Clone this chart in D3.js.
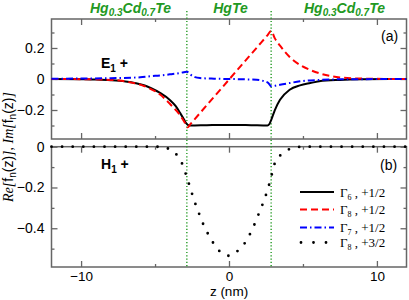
<!DOCTYPE html>
<html>
<head>
<meta charset="utf-8">
<script src="https://cdn.jsdelivr.net/npm/d3@7"></script>
<style>
body { margin: 0; background: #fff; }
svg { display: block; }
</style>
</head>
<body>
<svg id="chart" width="409" height="300"></svg>
<script>
// z (nm) vs amplitude
var gamma6 = [[-12,0],[-10,-0.002],[-9,-0.004],[-8,-0.008],[-7,-0.016],[-6.3,-0.027],[-5.7,-0.042],[-5.3,-0.058],
  [-4.66,-0.09],[-4,-0.135],[-3.6,-0.175],[-3.3,-0.22],[-3.05,-0.26],[-2.9,-0.285],[-2.75,-0.298],[-2.6,-0.3],
  [-1.5,-0.298],[0,-0.296],[1.5,-0.298],[2.6,-0.3],[2.72,-0.292],[2.85,-0.265],[3.1,-0.2],[3.45,-0.134],
  [4.1,-0.069],[4.8,-0.041],[5.5,-0.026],[6.1,-0.015],[7.5,-0.006],[9,-0.002],[12,0]];
var gamma8a = [[-12,0],[-10,-0.001],[-8.7,-0.003],[-7.4,-0.01],[-6.5,-0.025],[-6,-0.036],[-5.34,-0.062],
  [-4.66,-0.1],[-4,-0.16],[-3.6,-0.2],[-3.3,-0.235],[-3,-0.28],[-2.8,-0.312],[-2.6,-0.29],[-2,-0.224],
  [-1,-0.114],[0,-0.004],[1,0.106],[2,0.216],[2.6,0.282],[2.85,0.31],[3.1,0.262],[3.45,0.215],[4.1,0.142],
  [4.8,0.09],[5.5,0.058],[6.1,0.037],[6.8,0.02],[7.5,0.01],[8.5,0.004],[10,0.001],[12,0]];
var gamma7 = [[-12,0.002],[-10,0.003],[-8,0.005],[-6,0.011],[-5.3,0.018],[-4.66,0.023],[-4,0.03],[-3.3,0.039],
  [-2.85,0.047],[-2.6,0.028],[-2.3,0.012],[-1.96,0.006],[-1,0.002],[0,0],[1,-0.002],[1.87,-0.005],[2.3,-0.012],
  [2.66,-0.026],[2.85,-0.047],[3.3,-0.04],[3.45,-0.037],[4.1,-0.026],[4.8,-0.015],[6.1,-0.006],[7.5,-0.002],
  [9,-0.001],[12,0]];
var gamma8b = [[-12,0],[-5,0],[-4.5,-0.003],[-4,-0.013],[-3.47,-0.046],[-3.13,-0.09],[-2.9,-0.139],[-2.68,-0.188],
  [-2.45,-0.242],[-2.23,-0.289],[-1.96,-0.34],[-1.69,-0.389],[-1.37,-0.434],[-1.01,-0.478],[-0.56,-0.518],
  [0,-0.535],[0.7,-0.503],[1.15,-0.464],[1.49,-0.418],[1.78,-0.371],[2.05,-0.322],[2.32,-0.273],[2.55,-0.225],
  [2.75,-0.176],[2.93,-0.126],[3.11,-0.078],[3.63,-0.033],[4.24,-0.008],[5,0],[12,0]];

var wellEdges = [-2.85, 2.85];
var xMajor = [-10, 0, 10], xMinor = [-5, 5];
var yTopMajor = [-0.2, 0, 0.2], yTopMinor = [-0.3, -0.1, 0.1, 0.3];
var yBotMajor = [-0.4, -0.2, 0], yBotMinor = [-0.5, -0.3, -0.1];
var legendLabels = [["6", "+1/2"], ["8", "+1/2"], ["7", "+1/2"], ["8", "+3/2"]];

var svg = d3.select('#chart');
var axisColor = '#666';
var green = '#229922';
var sans = 'Liberation Sans, Arial, sans-serif';
var serif = 'Liberation Serif, Times New Roman, serif';

var x = d3.scaleLinear().domain([-12, 12]).range([51.5, 406.5]);
var yTop = d3.scaleLinear().domain([-0.387, 0.387]).range([139, 19]);
var yBot = d3.scaleLinear().domain([-0.59, 0]).range([267, 146.7]);

function styleAxis(g) {
  g.select('.domain').remove();
  g.selectAll('line').attr('stroke', axisColor).attr('stroke-width', 1.3);
  g.selectAll('text').attr('fill', '#000').attr('font-family', sans).attr('font-size', 14);
}

function panel(y, yMajor, yMinor, labelX) {
  var x0 = x.range()[0], x1 = x.range()[1];
  var y0 = y.range()[1], y1 = y.range()[0];
  // x ticks, bottom and top (inward)
  [[d3.axisBottom, y1], [d3.axisTop, y0]].forEach(function (a) {
    svg.append('g').attr('transform', 'translate(0,' + a[1] + ')')
      .call(a[0](x).tickValues(xMajor).tickSize(-6).tickFormat('')).call(styleAxis);
    svg.append('g').attr('transform', 'translate(0,' + a[1] + ')')
      .call(a[0](x).tickValues(xMinor).tickSize(-3).tickFormat('')).call(styleAxis);
  });
  if (labelX) {
    svg.append('g').attr('transform', 'translate(0,' + y1 + ')')
      .call(d3.axisBottom(x).tickValues(xMajor).tickSize(0).tickPadding(4).tickFormat(d3.format('d')))
      .call(styleAxis)
      .selectAll('text').attr('font-size', 13.5);
  }
  // y ticks, left and right
  svg.append('g').attr('transform', 'translate(' + x0 + ',0)')
    .call(d3.axisLeft(y).tickValues(yMajor).tickSize(-6).tickPadding(7).tickFormat(function (d) { return d === 0 ? '0' : d3.format('.1f')(d); }))
    .call(styleAxis);
  svg.append('g').attr('transform', 'translate(' + x0 + ',0)')
    .call(d3.axisLeft(y).tickValues(yMinor).tickSize(-3).tickFormat('')).call(styleAxis);
  svg.append('g').attr('transform', 'translate(' + x1 + ',0)')
    .call(d3.axisRight(y).tickValues(yMajor).tickSize(-6).tickFormat('')).call(styleAxis);
  svg.append('g').attr('transform', 'translate(' + x1 + ',0)')
    .call(d3.axisRight(y).tickValues(yMinor).tickSize(-3).tickFormat('')).call(styleAxis);
  svg.append('rect').attr('x', x0).attr('y', y0).attr('width', x1 - x0).attr('height', y1 - y0)
    .attr('fill', 'none').attr('stroke', axisColor).attr('stroke-width', 1.5);
}

panel(yTop, yTopMajor, yTopMinor, false);
panel(yBot, yBotMajor, yBotMinor, true);

// well boundaries
svg.selectAll('.edge').data(wellEdges).enter().append('line')
  .attr('x1', function (d) { return x(d); }).attr('x2', function (d) { return x(d); })
  .attr('y1', 11).attr('y2', 267)
  .attr('stroke', green).attr('stroke-width', 1.4).attr('stroke-dasharray', '1.2,2.1');

function lineFor(y) {
  return d3.line().x(function (d) { return x(d[0]); }).y(function (d) { return y(d[1]); }).curve(d3.curveMonotoneX);
}

var series = [
  { data: gamma6, y: yTop, color: '#000', dash: null, w: 2 },
  { data: gamma8a, y: yTop, color: '#ff0000', dash: '7,4', w: 2 },
  { data: gamma7, y: yTop, color: '#0000ff', dash: '7,3,1.5,3', w: 2 },
  { data: gamma8b, y: yBot, color: '#000', dash: '0,10.6', w: 2.8, cap: 'round' }
];
series.forEach(function (s) {
  svg.append('path').attr('d', lineFor(s.y)(s.data))
    .attr('fill', 'none').attr('stroke', s.color).attr('stroke-width', s.w)
    .attr('stroke-dasharray', s.dash).attr('stroke-linecap', s.cap || 'butt');
});

// region labels
function region(cx, parts) {
  var t = svg.append('text').attr('x', cx).attr('y', 13).attr('text-anchor', 'middle')
    .attr('fill', green).attr('font-family', sans)
    .attr('font-weight', 'bold').attr('font-style', 'italic').attr('font-size', 14);
  parts.forEach(function (p) {
    t.append('tspan').text(p[0]).attr('font-size', p[1] ? 10 : 14).attr('dy', p[1] ? 3 : (p[2] ? -3 : 0));
  });
}
region(130.5, [['Hg'], ['0.3', 1], ['Cd', 0, 1], ['0.7', 1], ['Te', 0, 1]]);
region(230.5, [['HgTe']]);
region(344.5, [['Hg'], ['0.3', 1], ['Cd', 0, 1], ['0.7', 1], ['Te', 0, 1]]);

// panel tags
svg.append('text').attr('x', 381).attr('y', 41).text('(a)').attr('font-family', sans).attr('font-size', 14);
svg.append('text').attr('x', 380).attr('y', 169.5).text('(b)').attr('font-family', sans).attr('font-size', 14);

function stateLabel(px, py, letter) {
  var t = svg.append('text').attr('x', px).attr('y', py)
    .attr('font-family', sans).attr('font-weight', 'bold').attr('font-size', 14);
  t.append('tspan').text(letter);
  t.append('tspan').text('1').attr('font-size', 10).attr('dy', 4);
  t.append('tspan').text(' +').attr('dy', -4);
}
stateLabel(101, 67.5, 'E');
stateLabel(101, 168.5, 'H');

// axis titles
svg.append('text').attr('x', 229).attr('y', 296).attr('text-anchor', 'middle')
  .attr('font-family', sans).attr('font-size', 13.5).text('z (nm)');

var yl = svg.append('text').attr('transform', 'translate(13,147) rotate(-90)').attr('text-anchor', 'middle')
  .attr('font-size', 14).attr('font-family', sans);
[['Re[', 'i'], ['f', 's'], ['n', 'sub'], ['(z)', 's'], ['],  Im[', 'i'], ['f', 's'], ['n', 'sub'], ['(z)', 's'], [']', 'i']]
  .forEach(function (p, i, arr) {
    var ts = yl.append('tspan').text(p[0]);
    if (p[1] === 'i') ts.attr('font-family', serif).attr('font-style', 'italic');
    if (p[1] === 'sub') ts.attr('font-size', 10).attr('dy', 3);
    else if (i > 0 && arr[i - 1][1] === 'sub') ts.attr('dy', -3);
  });

// legend
var lg = svg.append('g');
var legendY = [192, 209.5, 227.5, 242.5];
series.forEach(function (s, i) {
  var ly = legendY[i];
  lg.append('line').attr('x1', s.cap ? 301 : 300).attr('x2', 334).attr('y1', ly).attr('y2', ly)
    .attr('stroke', s.color).attr('stroke-width', s.w)
    .attr('stroke-dasharray', s.cap ? '0,12.5' : s.dash).attr('stroke-linecap', s.cap || 'butt');
  var t = lg.append('text').attr('x', 340).attr('y', ly + 4.5).attr('font-family', serif).attr('font-size', 13);
  t.append('tspan').text('\u0393');
  t.append('tspan').text(legendLabels[i][0]).attr('font-size', 8).attr('dy', 3);
  t.append('tspan').text(' , ' + legendLabels[i][1]).attr('dy', -3);
});
</script>
</body>
</html>
